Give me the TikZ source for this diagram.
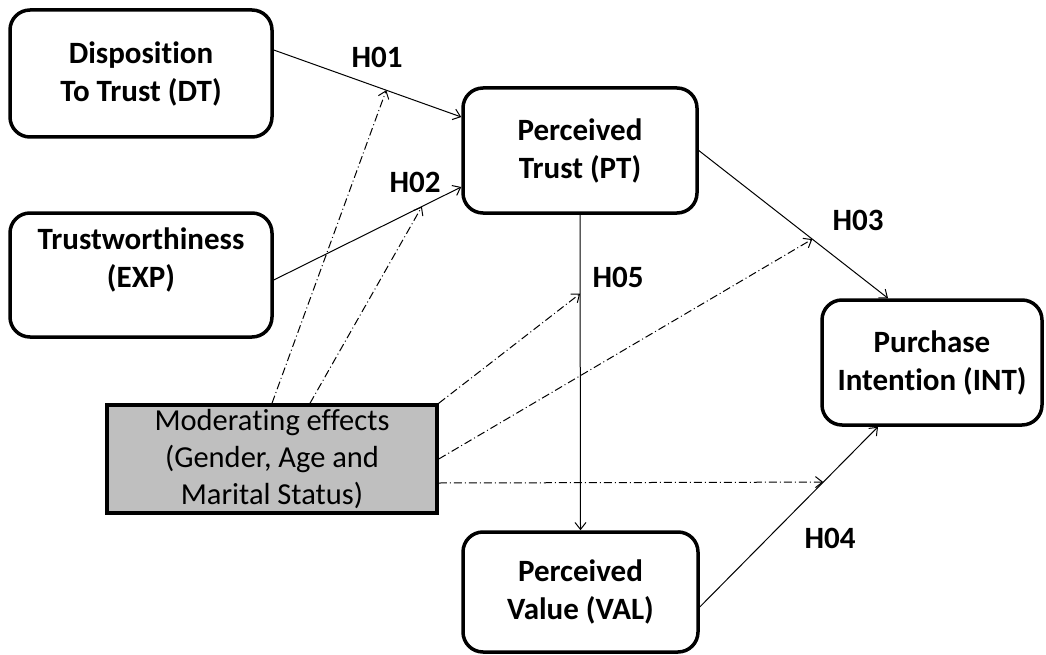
\documentclass[tikz,border=0pt]{standalone}
\usepackage{fontspec}
\setmainfont{Carlito}[Ligatures=NoCommon]
\usetikzlibrary{arrows.meta}
\begin{document}
\begin{tikzpicture}[x=1pt, y=-1pt]

    \tikzstyle{box} = [draw, line width=3.5, rounded corners=20, align=center, inner sep=0, font=\fontsize{31}{38}\selectfont\bfseries]
    \tikzstyle{modbox} = [draw, line width=3.5, fill=black!25, align=center, inner sep=0, font=\fontsize{30.5}{37}\selectfont]
    \tikzstyle{link} = [-{Straight Barb[length=7pt, width=11pt]}, line width=1]
    \tikzstyle{moderate} = [link, dash pattern=on 8pt off 3pt on 1pt off 3pt]
    \tikzstyle{hyp} = [font=\fontsize{31}{34}\selectfont\bfseries]

    \useasboundingbox (0,0) rectangle (1046,655);

    \node[box, minimum width=262, minimum height=127] (dt) at (141,73.5) {Disposition\\ To Trust (DT)};
    \node[box, minimum width=262, minimum height=124, text depth=35] (exp) at (141,275) {Trustworthiness\\(EXP)};
    \node[box, minimum width=234, minimum height=125] (pt) at (580,150.5) {Perceived\\Trust (PT)};
    \node[box, minimum width=220, minimum height=125] (int) at (932,362.5) {Purchase\\Intention (INT)};
    \node[box, minimum width=235, minimum height=120] (val) at (580.5,592) {Perceived\\Value (VAL)};
    \node[modbox, minimum width=330, minimum height=108] (mod) at (272,459) {Moderating effects\\(Gender, Age and\\Marital Status)};

    % hypotheses
    \draw[link] ([yshift=23.5]dt.east) -- ([yshift=33.5]pt.west) coordinate[pos=0.6] (dtpt);
    \draw[link] ([yshift=-5]exp.east) -- ([yshift=-36.5]pt.west) coordinate[pos=0.79] (exppt);
    \draw[link] (pt.east) -- ([xshift=-44]int.north) coordinate[pos=0.6] (ptint);
    \draw[link] ([yshift=-15]val.east) -- ([xshift=-54]int.south) coordinate[pos=0.693] (valint);
    \draw[link] (pt.south) -- (val.north) coordinate[pos=0.25] (ptval);

    \node[hyp] (h01) at (377,57) {H01};
    \node[hyp] (h02) at (415,182) {H02};
    \node[hyp] (h03) at (858,220) {H03};
    \node[hyp] (h04) at (830,538) {H04};
    \node[hyp] (h05) at (618,277) {H05};

    % moderating effects
    \draw[moderate] (mod.north) -- (dtpt);
    \draw[moderate] ([xshift=38]mod.north) -- (exppt);
    \draw[moderate] (mod.north east) -- (ptval);
    \draw[moderate] (mod.east) -- (ptint);
    \draw[moderate] ([yshift=-24]mod.east) -- (valint);
\end{tikzpicture}
\end{document}
